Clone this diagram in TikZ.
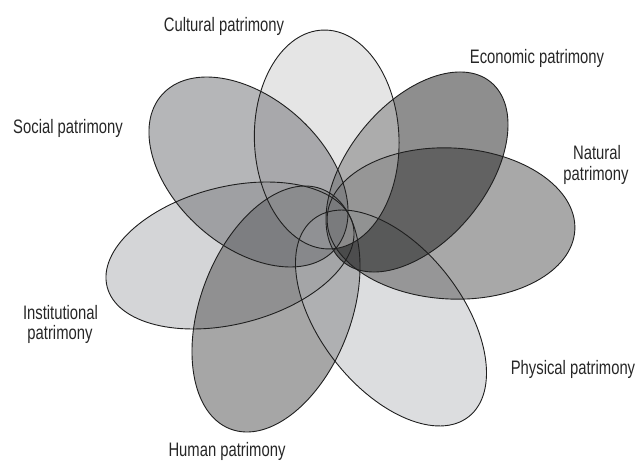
\documentclass[tikz,border=0pt]{standalone}
\usepackage{fontspec}
\setmainfont[FakeStretch=0.76]{Liberation Sans}
\definecolor{cInst}{rgb}{0.663,0.671,0.686}
\definecolor{cHum}{gray}{0.302}
\definecolor{cPhy}{rgb}{0.725,0.733,0.749}
\definecolor{cNat}{gray}{0.318}
\definecolor{cEco}{gray}{0.114}
\definecolor{cCul}{gray}{0.796}
\definecolor{cSoc}{rgb}{0.42,0.427,0.443}
\definecolor{linec}{gray}{0.12}
\tikzset{
  petalfill/.style={fill opacity=0.5},
  petalline/.style={draw=linec, line width=0.9pt},
  lbl/.style={font=\fontsize{19.5}{21}\selectfont, text=black!85, anchor=base, inner sep=0pt}
}
\begin{document}
\begin{tikzpicture}[x=1pt,y=-1pt]
\useasboundingbox (0,0) rectangle (638,462);
\def\petals{230/255.5/126.8/68.6/14.3/cInst,
  276/309/128.4/75.5/69.2/cHum,
  391/318/125.6/70.7/-51.8/cPhy,
  451/223.5/124/75.5/-3/cNat,
  417/172/116.3/69/50.65/cEco,
  326.7/139.5/109.5/72.3/92/cCul,
  248.5/172/116/74/-41.8/cSoc}
\foreach \px/\py/\ra/\rb/\rot/\col in \petals {
  \fill[\col, petalfill, rotate around={\rot:(\px,\py)}] (\px,\py) ellipse [x radius=\ra pt, y radius=\rb pt];
}
\foreach \px/\py/\ra/\rb/\rot/\col in \petals {
  \draw[petalline, rotate around={\rot:(\px,\py)}] (\px,\py) ellipse [x radius=\ra pt, y radius=\rb pt];
}
\node[lbl] (cul) at (224,31.5) {Cultural patrimony};
\node[lbl] (eco) at (537,64) {Economic patrimony};
\node[lbl] (soc) at (68,134) {Social patrimony};
\node[lbl] (nat1) at (597,160) {Natural};
\node[lbl] (nat2) at (596,181) {patrimony};
\node[lbl] (ins1) at (60.5,319.3) {Institutional};
\node[lbl] (ins2) at (60,340) {patrimony};
\node[lbl] (phy) at (573,375) {Physical patrimony};
\node[lbl] (hum) at (227,457) {Human patrimony};
\end{tikzpicture}
\end{document}
